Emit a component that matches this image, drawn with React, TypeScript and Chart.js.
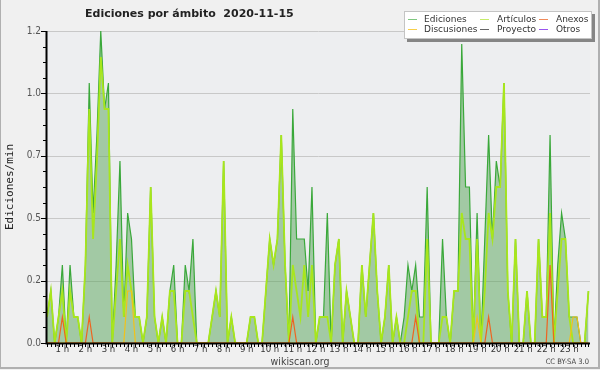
import React, { useEffect, useRef } from 'react';
import { Chart, registerables } from 'chart.js';

Chart.register(...registerables);

// ---------- data (edits per minute, 10-minute samples) ----------
const HOUR_LABELS = [
  '1 h', '2 h', '3 h', '4 h', '5 h', '6 h', '7 h', '8 h', '9 h', '10 h', '11 h', '12 h',
  '13 h', '14 h', '15 h', '16 h', '17 h', '18 h', '19 h', '20 h', '21 h', '22 h', '23 h',
];

const Y_LABELS = [0, 0.24, 0.48, 0.72, 0.96, 1.2];

const EDICIONES = [
  0.1, 0.2, 0, 0.1, 0.3, 0, 0.3, 0.1, 0.1, 0,
  0.3, 1.0, 0.5, 0.8, 1.2, 0.9, 1.0, 0, 0.3, 0.7,
  0.1, 0.5, 0.4, 0.1, 0.1, 0, 0.1, 0.6, 0.1, 0,
  0.1, 0, 0.2, 0.3, 0, 0, 0.3, 0.2, 0.4, 0,
  0, 0, 0, 0.1, 0.2, 0.1, 0.7, 0, 0.1, 0,
  0, 0, 0, 0.1, 0.1, 0, 0, 0.2, 0.4, 0.3,
  0.4, 0.8, 0.3, 0, 0.9, 0.4, 0.4, 0.4, 0.2, 0.6,
  0, 0.1, 0.1, 0.5, 0, 0.3, 0.4, 0, 0.2, 0.1,
  0, 0, 0.3, 0.1, 0.3, 0.5, 0.2, 0, 0.1, 0.3,
  0, 0.1, 0, 0.1, 0.3, 0.2, 0.3, 0.1, 0.1, 0.6,
  0, 0, 0, 0.4, 0.1, 0, 0.2, 0.2, 1.15, 0.6,
  0.6, 0, 0.5, 0, 0.4, 0.8, 0.4, 0.7, 0.6, 1.0,
  0.2, 0, 0.4, 0, 0, 0.2, 0, 0, 0.4, 0.1,
  0.1, 0.8, 0, 0.3, 0.5, 0.4, 0.1, 0.1, 0.1, 0,
  0, 0.2,
];

const ARTICULOS = [
  0.1, 0.2, 0, 0.1, 0.2, 0, 0.2, 0.1, 0.1, 0,
  0.3, 0.9, 0.4, 0.7, 1.1, 0.9, 0.9, 0, 0.2, 0.4,
  0.1, 0.3, 0.2, 0.1, 0.1, 0, 0.1, 0.6, 0.1, 0,
  0.1, 0, 0.2, 0.2, 0, 0, 0.2, 0.2, 0.1, 0,
  0, 0, 0, 0.1, 0.2, 0.1, 0.7, 0, 0.1, 0,
  0, 0, 0, 0.1, 0.1, 0, 0, 0.2, 0.4, 0.3,
  0.4, 0.8, 0.3, 0, 0.3, 0.2, 0.1, 0.3, 0.1, 0.3,
  0, 0.1, 0.1, 0.1, 0, 0.3, 0.4, 0, 0.2, 0.1,
  0, 0, 0.3, 0.1, 0.3, 0.5, 0.2, 0, 0.1, 0.3,
  0, 0.1, 0, 0, 0.1, 0.2, 0.2, 0, 0, 0.4,
  0, 0, 0, 0.1, 0.1, 0, 0.2, 0.2, 0.5, 0.4,
  0.4, 0, 0.4, 0, 0.2, 0.5, 0.4, 0.6, 0.6, 1.0,
  0.2, 0, 0.4, 0, 0, 0.2, 0, 0, 0.4, 0.1,
  0.1, 0.5, 0, 0.2, 0.4, 0.4, 0.1, 0, 0, 0,
  0, 0.2,
];

const ANEXOS = [
  0, 0, 0, 0, 0.1, 0, 0, 0, 0, 0,
  0, 0.1, 0, 0, 0, 0, 0, 0, 0, 0,
  0, 0, 0, 0, 0, 0, 0, 0, 0, 0,
  0, 0, 0, 0, 0, 0, 0, 0, 0, 0,
  0, 0, 0, 0, 0, 0, 0, 0, 0, 0,
  0, 0, 0, 0, 0, 0, 0, 0, 0, 0,
  0, 0, 0, 0, 0.1, 0, 0, 0, 0, 0,
  0, 0, 0, 0, 0, 0, 0, 0, 0, 0,
  0, 0, 0, 0, 0, 0, 0, 0, 0, 0,
  0, 0, 0, 0, 0, 0, 0.1, 0, 0, 0,
  0, 0, 0, 0, 0, 0, 0, 0, 0, 0,
  0, 0, 0, 0, 0, 0.1, 0, 0, 0, 0,
  0, 0, 0, 0, 0, 0, 0, 0, 0, 0,
  0, 0.3, 0, 0, 0, 0, 0, 0, 0, 0,
  0, 0,
];

const DISCUSIONES = [
  0, 0, 0, 0, 0, 0, 0, 0, 0, 0,
  0, 0, 0, 0, 0, 0, 0, 0, 0, 0,
  0, 0.2, 0.2, 0, 0, 0, 0, 0, 0, 0,
  0, 0, 0, 0, 0, 0, 0, 0, 0, 0,
  0, 0, 0, 0, 0, 0, 0, 0, 0, 0,
  0, 0, 0, 0, 0, 0, 0, 0, 0, 0,
  0, 0, 0, 0, 0, 0, 0, 0, 0, 0,
  0, 0, 0, 0, 0, 0, 0, 0, 0, 0,
  0, 0, 0, 0, 0, 0, 0, 0, 0, 0,
  0, 0, 0, 0, 0, 0, 0, 0, 0, 0,
  0, 0, 0, 0, 0, 0, 0, 0, 0, 0,
  0, 0, 0.1, 0, 0, 0, 0, 0, 0, 0,
  0, 0, 0, 0, 0, 0, 0, 0, 0, 0,
  0, 0, 0, 0, 0, 0, 0, 0.1, 0.1, 0,
  0, 0,
];

const LEGEND = [
  { label: 'Ediciones', color: '#7fc77f', lx: 408, tx: 424, y: 19 },
  { label: 'Artículos', color: '#c6ec6a', lx: 480, tx: 497, y: 19 },
  { label: 'Anexos', color: '#f08a5a', lx: 539, tx: 556, y: 19 },
  { label: 'Discusiones', color: '#f7cf4a', lx: 408, tx: 424, y: 29 },
  { label: 'Proyecto', color: '#666666', lx: 480, tx: 497, y: 29 },
  { label: 'Otros', color: '#9955ee', lx: 539, tx: 556, y: 29 },
];

const NARROW = '"Liberation Sans Narrow", "DejaVu Sans Condensed", "Liberation Sans", sans-serif';
const X_MAX = 141.4;

const pts = (arr: number[]) => arr.map((y, i) => ({ x: i, y }));

const framePlugin = {
  id: 'framePlugin',
  beforeDatasetsDraw(chart: any) {
    const { ctx, chartArea: a, scales } = chart;
    ctx.save();
    ctx.fillStyle = '#edeef0';
    ctx.fillRect(a.left, a.top, a.right - a.left, a.bottom - a.top);
    ctx.strokeStyle = '#c8c8c8';
    ctx.lineWidth = 1;
    ctx.beginPath();
    Y_LABELS.forEach((v) => {
      if (v === 0) return;
      const py = Math.round(scales.y.getPixelForValue(v)) + 0.5;
      ctx.moveTo(a.left, py);
      ctx.lineTo(a.right, py);
    });
    ctx.stroke();
    ctx.restore();
  },
  afterDatasetsDraw(chart: any) {
    const { ctx, chartArea: a, scales } = chart;
    const xs = scales.x;
    const ys = scales.y;
    ctx.save();
    ctx.strokeStyle = '#000';
    ctx.lineWidth = 1;
    ctx.beginPath();
    for (let i = 0; i <= Math.floor(X_MAX); i++) {
      const px = Math.round(xs.getPixelForValue(i)) + 0.5;
      ctx.moveTo(px, a.bottom);
      ctx.lineTo(px, a.bottom + 4);
    }
    for (let k = 0; k < Y_LABELS.length; k++) {
      const v0 = Y_LABELS[k];
      const py = Math.round(ys.getPixelForValue(v0)) + 0.5;
      ctx.moveTo(a.left - 6, py);
      ctx.lineTo(a.left, py);
      if (k < Y_LABELS.length - 1) {
        const v1 = Y_LABELS[k + 1];
        for (let s = 1; s < 4; s++) {
          const pm = Math.round(ys.getPixelForValue(v0 + ((v1 - v0) * s) / 4)) + 0.5;
          ctx.moveTo(a.left - 4, pm);
          ctx.lineTo(a.left, pm);
        }
      }
    }
    ctx.stroke();
    ctx.lineWidth = 2;
    ctx.beginPath();
    ctx.moveTo(a.left - 0.5, a.top);
    ctx.lineTo(a.left - 0.5, a.bottom + 0.5);
    ctx.lineTo(a.right, a.bottom + 0.5);
    ctx.stroke();
    ctx.restore();
  },
};

function ChartCanvas() {
  const ref = useRef<HTMLCanvasElement | null>(null);
  useEffect(() => {
    if (!ref.current) return;
    Chart.defaults.font.family = 'DejaVu Sans';
    const chart = new Chart(ref.current, {
      type: 'line',
      data: {
        datasets: [
          {
            label: 'Ediciones',
            data: pts(EDICIONES),
            borderColor: '#3aa83a',
            borderWidth: 1.2,
            backgroundColor: 'rgba(88,164,88,0.5)',
            fill: 'origin',
            order: 4,
          },
          {
            label: 'Artículos',
            data: pts(ARTICULOS),
            borderColor: '#a8e61c',
            borderWidth: 1.8,
            fill: false,
            order: 3,
          },
          {
            label: 'Discusiones',
            data: pts(DISCUSIONES),
            borderColor: '#f2c21a',
            borderWidth: 1.2,
            fill: false,
            order: 2,
          },
          {
            label: 'Anexos',
            data: pts(ANEXOS),
            borderColor: '#ee6420',
            borderWidth: 1.2,
            fill: false,
            order: 1,
          },
        ],
      },
      options: {
        responsive: true,
        maintainAspectRatio: false,
        animation: false,
        layout: { padding: { left: 0, right: 10, top: 31, bottom: 0 } },
        plugins: {
          legend: { display: false },
          title: { display: false },
          tooltip: { enabled: false },
        },
        elements: { point: { radius: 0 }, line: { tension: 0 } },
        scales: {
          x: {
            type: 'linear',
            min: 0,
            max: X_MAX,
            grid: { display: false, drawTicks: false, tickLength: 0 },
            border: { display: false },
            afterBuildTicks: (s: any) => {
              s.ticks = HOUR_LABELS.map((_, k) => ({ value: 6 * (k + 1) - 2 }));
            },
            afterFit: (s: any) => {
              s.height = 27;
            },
            ticks: {
              autoSkip: false,
              maxRotation: 0,
              padding: 1,
              color: '#333',
              font: { size: 9.5, family: NARROW },
              callback: (_v: any, i: number) => HOUR_LABELS[i],
            },
          },
          y: {
            type: 'linear',
            min: 0,
            max: 1.2,
            grid: { display: false, drawTicks: false, tickLength: 0 },
            border: { display: false },
            afterBuildTicks: (s: any) => {
              s.ticks = Y_LABELS.map((v) => ({ value: v }));
            },
            afterFit: (s: any) => {
              s.width = 47;
            },
            ticks: {
              padding: 6,
              color: '#555',
              font: { size: 10, family: NARROW },
              callback: (v: any) => Number(v).toFixed(1),
            },
            title: {
              display: true,
              text: 'Ediciones/min',
              color: '#222',
              font: { size: 11, family: 'DejaVu Sans Mono' },
              padding: { top: 3.5, bottom: 0 },
            },
          },
        },
      },
      plugins: [framePlugin],
    } as any);
    return () => chart.destroy();
  }, []);
  return <canvas ref={ref} />;
}

export default function App() {
  return (
    <div
      style={{
        position: 'fixed',
        left: 0,
        top: 0,
        width: 600,
        height: 370,
        background: '#f0f0f0',
        fontFamily: 'DejaVu Sans',
        overflow: 'hidden',
      }}
    >
      <div style={{ position: 'absolute', left: 0, top: 0, width: 600, height: 370 }}>
        <ChartCanvas />
      </div>
      <div
        style={{
          position: 'absolute',
          left: 85,
          top: 7,
          fontSize: 11,
          lineHeight: '14px',
          fontWeight: 'bold',
          color: '#222',
          whiteSpace: 'pre',
        }}
      >
        {'Ediciones por ámbito  2020-11-15'}
      </div>
      <div
        style={{
          position: 'absolute',
          left: 404,
          top: 11,
          width: 186,
          height: 26,
          background: '#fff',
          border: '1px solid #c4c4c4',
          boxShadow: '3px 3px 0 #858585',
        }}
      />
      {LEGEND.map((it) => (
        <React.Fragment key={it.label}>
          <div
            style={{
              position: 'absolute',
              left: it.lx,
              top: it.y,
              width: 9,
              height: 1,
              background: it.color,
            }}
          />
          <div
            style={{
              position: 'absolute',
              left: it.tx,
              top: it.y - 6,
              fontSize: 9,
              lineHeight: '12px',
              color: '#333',
              whiteSpace: 'pre',
            }}
          >
            {it.label}
          </div>
        </React.Fragment>
      ))}
      <div
        style={{
          position: 'absolute',
          left: 250,
          width: 100,
          top: 355,
          textAlign: 'center',
          fontSize: 10.5,
          lineHeight: '12px',
          fontFamily: NARROW,
          color: '#444',
        }}
      >
        wikiscan.org
      </div>
      <div
        style={{
          position: 'absolute',
          right: 11,
          top: 357,
          fontSize: 7.5,
          lineHeight: '10px',
          fontFamily: NARROW,
          color: '#444',
          whiteSpace: 'pre',
        }}
      >
        CC BY-SA 3.0
      </div>
      <div
        style={{
          position: 'absolute',
          left: 0,
          top: 0,
          width: 597,
          height: 367,
          borderLeft: '1px solid #b0b0b0',
          borderRight: '2px solid #b0b0b0',
          borderBottom: '2px solid #b0b0b0',
          pointerEvents: 'none',
        }}
      />
    </div>
  );
}
